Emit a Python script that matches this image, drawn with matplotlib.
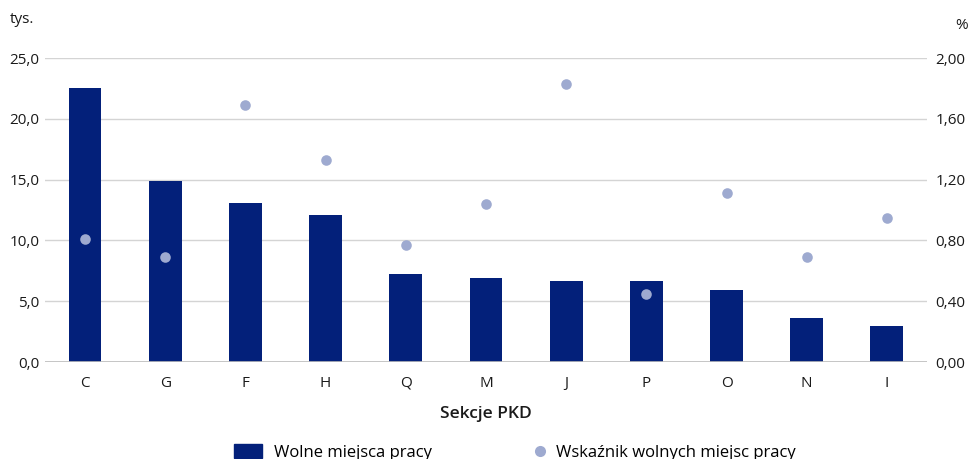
import numpy as np
import matplotlib.pyplot as plt
from matplotlib.patches import Patch
from matplotlib.lines import Line2D

plt.rcParams['font.family'] = ['Open Sans', 'DejaVu Sans']

sekcje = ['C', 'G', 'F', 'H', 'Q', 'M', 'J', 'P', 'O', 'N', 'I']
wolne = [22.5, 14.9, 13.1, 12.1, 7.2, 6.9, 6.7, 6.7, 5.9, 3.6, 3.0]  # tys.
wskaznik = [0.81, 0.69, 1.69, 1.33, 0.77, 1.04, 1.83, 0.45, 1.11, 0.69, 0.95]  # %

navy = '#03207a'
dot = '#9eaad0'
grid = '#d4d4d4'

fig = plt.figure(figsize=(9.73, 4.59), dpi=100)
ax = fig.add_axes([0.0462, 0.2113, 0.9065, 0.6623])
ax2 = ax.twinx()

x = np.arange(len(sekcje))
ax.bar(x, wolne, width=0.41, color=navy, zorder=2)
ax2.scatter(x, wskaznik, s=58, color=dot, zorder=3, linewidths=0)

ax.set_ylim(0, 25)
ax.set_yticks(np.arange(0, 26, 5))
ax.set_yticklabels([f'{v:.1f}'.replace('.', ',') for v in np.arange(0, 26, 5)])
ax2.set_ylim(0, 2.0)
ax2.set_yticks(np.arange(0, 2.01, 0.4))
ax2.set_yticklabels([f'{v:.2f}'.replace('.', ',') for v in np.arange(0, 2.01, 0.4)])
ax.set_xlim(-0.5, len(sekcje) - 0.5)
ax.set_xticks(x)
ax.set_xticklabels(sekcje)

for a in (ax, ax2):
    for s in a.spines.values():
        s.set_visible(False)
    a.tick_params(length=0, labelsize=11, colors='#1a1a1a')
ax.tick_params(axis='y', pad=4)
ax2.tick_params(axis='y', pad=6)
ax.tick_params(axis='x', pad=10)
ax.yaxis.grid(True, color=grid, linewidth=1, zorder=0)
ax.set_axisbelow(True)
ax.axhline(0, color='#bdbdbd', linewidth=1.2, zorder=3)
ax2.set_zorder(ax.get_zorder() + 1)
ax2.patch.set_visible(False)

ax.set_xlabel('Sekcje PKD', fontsize=12.5, fontweight='semibold', labelpad=11, color='#1a1a1a')
fig.text(0.010, 0.958, 'tys.', fontsize=11, va='center', color='#1a1a1a')
fig.text(0.995, 0.945, '%', fontsize=11, va='center', ha='right', color='#1a1a1a')

h1 = [Patch(color=navy, label='Wolne miejsca pracy')]
h2 = [Line2D([], [], marker='o', linestyle='none', markersize=8,
             markerfacecolor=dot, markeredgewidth=0,
             label='Wskaźnik wolnych miejsc pracy')]
fig.legend(handles=h1, loc='center left', bbox_to_anchor=(0.241, 0.014),
           frameon=False, fontsize=12, handlelength=1.65,
           handleheight=0.85, handletextpad=0.75, borderaxespad=0, borderpad=0)
fig.legend(handles=h2, loc='center left', bbox_to_anchor=(0.549, 0.014),
           frameon=False, fontsize=12, handlelength=0.7,
           handletextpad=0.6, borderaxespad=0, borderpad=0)

fig.savefig('out.png', dpi=100)
